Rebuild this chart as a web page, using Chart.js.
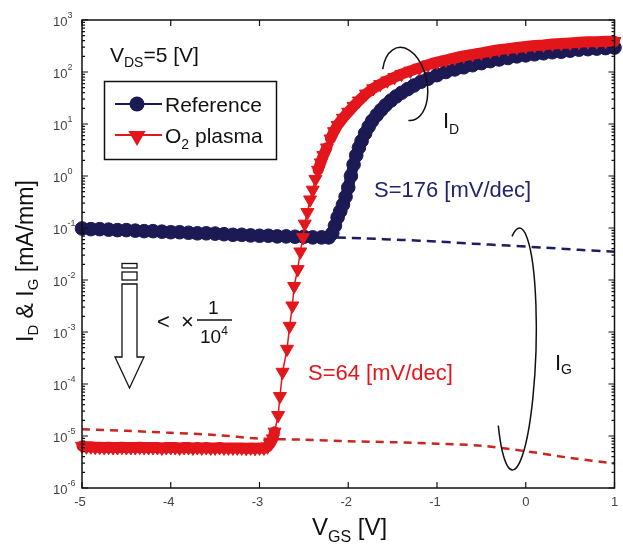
<!DOCTYPE html>
<html>
<head>
<meta charset="utf-8">
<script src="https://cdn.jsdelivr.net/npm/chart.js@4.4.1/dist/chart.umd.min.js"></script>
<style>
  html, body { margin: 0; padding: 0; background: #fff; }
  #wrap { width: 623px; height: 548px; }
</style>
</head>
<body>
<div id="wrap"><canvas id="ivChart"></canvas></div>
<script>
// Reference device: drain current I_D [mA/mm] vs V_GS [V]
const vgsRef = [-5.0, -4.9, -4.8, -4.7, -4.6, -4.5, -4.4, -4.3, -4.2, -4.1,
  -4.0, -3.9, -3.8, -3.7, -3.6, -3.5, -3.4, -3.3, -3.2, -3.1,
  -3.0, -2.9, -2.8, -2.7, -2.6, -2.5, -2.4, -2.3, -2.22, -2.18,
  -2.15, -2.12, -2.09, -2.06, -2.03, -2.00, -1.97, -1.94, -1.91, -1.88,
  -1.85, -1.81, -1.77, -1.73, -1.68, -1.63, -1.58, -1.52, -1.46, -1.40,
  -1.33, -1.26, -1.18, -1.10, -1.00, -0.90, -0.80, -0.70, -0.60, -0.50,
  -0.40, -0.30, -0.20, -0.10, 0.00, 0.10, 0.20, 0.30, 0.40, 0.50,
  0.60, 0.70, 0.80, 0.90, 1.00];
const idRef = [0.098, 0.095, 0.095, 0.093, 0.091, 0.091, 0.089, 0.087, 0.087, 0.085,
  0.083, 0.083, 0.081, 0.079, 0.079, 0.078, 0.076, 0.074, 0.074, 0.072,
  0.071, 0.071, 0.069, 0.069, 0.068, 0.068, 0.066, 0.066, 0.066, 0.079,
  0.11, 0.16, 0.21, 0.28, 0.40, 0.60, 1.0, 1.66, 2.5, 3.5,
  4.7, 6.6, 8.9, 11.5, 14.8, 18.6, 22.9, 28.2, 33.9, 39.8,
  46.8, 55, 65, 74, 87, 100, 112, 123, 135, 148,
  162, 174, 186, 200, 209, 219, 229, 240, 245, 257,
  269, 275, 282, 288, 295];

// O2 plasma device: drain current I_D [mA/mm] vs V_GS [V]
const vgsO2 = [-5.00, -4.95, -4.90, -4.85, -4.80, -4.75, -4.70, -4.65, -4.60, -4.55,
  -4.50, -4.45, -4.40, -4.35, -4.30, -4.25, -4.20, -4.15, -4.10, -4.05,
  -4.00, -3.95, -3.90, -3.85, -3.80, -3.75, -3.70, -3.65, -3.60, -3.55,
  -3.50, -3.45, -3.40, -3.35, -3.30, -3.25, -3.20, -3.15, -3.10, -3.05,
  -3.00, -2.95, -2.91, -2.88, -2.85, -2.83, -2.79, -2.77, -2.74, -2.69,
  -2.66, -2.63, -2.61, -2.57, -2.54, -2.51, -2.49, -2.46, -2.43, -2.40,
  -2.37, -2.34, -2.31, -2.28, -2.24, -2.20, -2.16, -2.12, -2.06, -2.00,
  -1.94, -1.88, -1.80, -1.72, -1.64, -1.56, -1.48, -1.40, -1.30, -1.20,
  -1.10, -1.00, -0.90, -0.80, -0.70, -0.60, -0.50, -0.40, -0.30, -0.20,
  -0.10, 0.00, 0.10, 0.20, 0.30, 0.40, 0.50, 0.60, 0.70, 0.80,
  0.90, 1.00];
const idO2 = [6.4e-6, 6.2e-6, 6.2e-6, 6.1e-6, 6.1e-6, 6.0e-6, 6.1e-6, 6.0e-6, 6.0e-6, 6.1e-6,
  6.0e-6, 6.0e-6, 6.0e-6, 6.1e-6, 6.0e-6, 6.0e-6, 6.0e-6, 6.0e-6, 5.9e-6, 6.0e-6,
  6.0e-6, 6.0e-6, 5.9e-6, 6.0e-6, 6.0e-6, 5.9e-6, 6.0e-6, 5.9e-6, 6.0e-6, 5.9e-6,
  5.9e-6, 6.0e-6, 5.9e-6, 5.9e-6, 5.9e-6, 5.9e-6, 5.9e-6, 5.8e-6, 5.9e-6, 5.8e-6,
  5.9e-6, 5.9e-6, 6.2e-6, 7.1e-6, 8.9e-6, 1.2e-5, 2.5e-5, 5.8e-5, 1.7e-4, 4.7e-4,
  1.3e-3, 3.2e-3, 7.6e-3, 0.016, 0.035, 0.066, 0.12, 0.20, 0.35, 0.54,
  0.87, 1.3, 1.8, 2.5, 3.5, 5.2, 7.2, 9.5, 13, 17,
  22, 28, 38, 48, 58, 68, 79, 91, 105, 120,
  138, 155, 170, 186, 204, 219, 234, 251, 269, 282,
  295, 309, 324, 331, 347, 355, 363, 372, 380, 380,
  389, 389];

// gate leakage I_G [mA/mm]
const vgsIgRef = [-5.0, -4.5, -4.0, -3.5, -3.0, -2.5, -2.2, -1.8, -1.4, -1.0, -0.6, -0.2, 0.2, 0.6, 1.0];
const igRef = [0.098, 0.091, 0.083, 0.078, 0.071, 0.068, 0.066, 0.063, 0.059, 0.055, 0.050, 0.046, 0.042, 0.038, 0.035];
const vgsIgO2 = [-5.0, -4.5, -4.0, -3.5, -3.0, -2.5, -2.0, -1.5, -1.0, -0.5, 0.0, 0.5, 1.0];
const igO2 = [1.35e-5, 1.26e-5, 1.15e-5, 1.05e-5, 8.9e-6, 8.5e-6, 7.9e-6, 7.6e-6, 7.1e-6, 6.5e-6, 5.1e-6, 3.8e-6, 2.95e-6];

const xTicks = [-5, -4, -3, -2, -1, 0, 1];
const yExponents = [3, 2, 1, 0, -1, -2, -3, -4, -5, -6];

const NAVY = '#1b1a55';
const RED = '#e3161b';
const FONT = '"Liberation Sans", Arial, sans-serif';

const pts = (xs, ys) => xs.map((v, i) => ({ x: v, y: ys[i] }));
const font = px => px + 'px ' + FONT;

// dense sweeps merge into a thick band; steep sparse stretches keep a thin trace
const bandWidth = c => Math.abs(c.p1.y - c.p0.y) > 8 ? 1.5 : 11;

// draw a run of text pieces (for sub/superscripts); returns end x
function textRuns(ctx, x, y, parts) {
  for (const [t, size, dy] of parts) {
    ctx.font = font(size);
    ctx.fillText(t, x, y + (dy || 0));
    x += ctx.measureText(t).width;
  }
  return x;
}

function downTriangle(ctx, cx, cy, r) {
  ctx.beginPath();
  ctx.moveTo(cx - r * 0.866, cy - r * 0.5);
  ctx.lineTo(cx + r * 0.866, cy - r * 0.5);
  ctx.lineTo(cx, cy + r);
  ctx.closePath();
  ctx.fill();
}

const decor = {
  id: 'decor',
  afterDraw(chart) {
    const { ctx, chartArea: a, scales: { x, y } } = chart;
    ctx.save();

    // axes box
    ctx.strokeStyle = '#111';
    ctx.lineWidth = 1.5;
    ctx.strokeRect(a.left, a.top, a.right - a.left, a.bottom - a.top);

    // inward ticks
    ctx.lineWidth = 1.2;
    ctx.beginPath();
    xTicks.forEach(v => {
      const px = x.getPixelForValue(v);
      ctx.moveTo(px, a.bottom); ctx.lineTo(px, a.bottom - 6);
      ctx.moveTo(px, a.top); ctx.lineTo(px, a.top + 6);
    });
    yExponents.forEach(e => {
      for (let m = 1; m < 10; m++) {
        const v = m * Math.pow(10, e);
        if (v > 1.0001e3) break;
        const py = y.getPixelForValue(v);
        const len = m === 1 ? 6 : 3;
        ctx.moveTo(a.left, py); ctx.lineTo(a.left + len, py);
        ctx.moveTo(a.right, py); ctx.lineTo(a.right - len, py);
      }
    });
    ctx.stroke();

    // tick labels
    ctx.fillStyle = '#444';
    ctx.textBaseline = 'alphabetic';
    ctx.font = font(13);
    ctx.textAlign = 'center';
    xTicks.forEach(v => {
      ctx.fillText(String(v), x.getPixelForValue(v) - (v < 0 ? 2 : 0), a.bottom + 18);
    });
    ctx.textAlign = 'left';
    yExponents.forEach(e => {
      const py = y.getPixelForValue(Math.pow(10, e));
      textRuns(ctx, a.left - 29, py + 6, [['10', 13], [String(e), 9, -8]]);
    });

    // axis titles
    ctx.fillStyle = '#111';
    textRuns(ctx, 312, 535, [['V', 24], ['GS', 16, 7], [' [V]', 24]]);
    ctx.save();
    ctx.translate(33, 342);
    ctx.rotate(-Math.PI / 2);
    textRuns(ctx, 0, 0, [['I', 23], ['D', 15, 5], [' & ', 23], ['I', 23], ['G', 15, 5], [' [mA/mm]', 23]]);
    ctx.restore();

    // bias condition
    textRuns(ctx, 110, 62, [['V', 21], ['DS', 14, 5], ['=5 [V]', 21]]);

    // legend
    ctx.lineWidth = 1.5;
    ctx.strokeStyle = '#111';
    ctx.strokeRect(104.5, 81.5, 172, 78);
    ctx.lineWidth = 2;
    ctx.strokeStyle = NAVY;
    ctx.beginPath(); ctx.moveTo(115, 104); ctx.lineTo(162, 104); ctx.stroke();
    ctx.fillStyle = NAVY;
    ctx.beginPath(); ctx.arc(137, 104, 7.5, 0, Math.PI * 2); ctx.fill();
    ctx.strokeStyle = RED;
    ctx.beginPath(); ctx.moveTo(115, 135); ctx.lineTo(162, 135); ctx.stroke();
    ctx.fillStyle = RED;
    downTriangle(ctx, 137, 136, 10);
    ctx.fillStyle = '#111';
    textRuns(ctx, 165, 112, [['Reference', 21]]);
    textRuns(ctx, 165, 143, [['O', 21], ['2', 14, 6], [' plasma', 21]]);

    // subthreshold swing notes
    ctx.fillStyle = '#23236e';
    textRuns(ctx, 374, 197, [['S=176 [mV/dec]', 22]]);
    ctx.fillStyle = RED;
    textRuns(ctx, 308, 380, [['S=64 [mV/dec]', 22]]);

    // I_D / I_G groups
    ctx.fillStyle = '#111';
    textRuns(ctx, 443, 128, [['I', 22], ['D', 14, 6]]);
    textRuns(ctx, 555, 370, [['I', 22], ['G', 14, 4]]);
    ctx.strokeStyle = '#111';
    ctx.lineWidth = 1.5;
    ctx.beginPath();
    ctx.ellipse(405, 84, 22, 37, -0.2, -2.6, 1.75);
    ctx.stroke();
    ctx.beginPath();
    ctx.ellipse(516, 349, 20, 121, 0.03, -1.95, 2.45);
    ctx.stroke();

    // leakage reduction arrow
    ctx.lineWidth = 1.3;
    ctx.strokeRect(122, 263.5, 15, 4.5);
    ctx.strokeRect(122, 272, 15, 8);
    ctx.beginPath();
    ctx.moveTo(122, 284); ctx.lineTo(137, 284); ctx.lineTo(137, 357);
    ctx.lineTo(144, 357); ctx.lineTo(129.5, 388); ctx.lineTo(115, 357);
    ctx.lineTo(122, 357); ctx.closePath();
    ctx.stroke();
    textRuns(ctx, 157, 329, [['<', 22]]);
    textRuns(ctx, 181, 329, [['\u00d7', 22]]);
    ctx.beginPath(); ctx.moveTo(197, 320); ctx.lineTo(232, 320); ctx.stroke();
    textRuns(ctx, 208, 314, [['1', 19]]);
    textRuns(ctx, 200, 343, [['10', 19], ['4', 12, -8]]);

    ctx.restore();
  }
};

new Chart(document.getElementById('ivChart'), {
  type: 'line',
  data: {
    datasets: [
      {
        label: 'O2 plasma',
        data: pts(vgsO2, idO2),
        borderColor: RED,
        backgroundColor: RED,
        borderWidth: 1.5,
        segment: { borderWidth: bandWidth },
        borderJoinStyle: 'round',
        borderCapStyle: 'round',
        pointStyle: 'triangle',
        rotation: 180,
        pointRadius: 7.5,
        pointBorderWidth: 1,
        tension: 0,
        clip: false
      },
      {
        label: 'Reference',
        data: pts(vgsRef, idRef),
        borderColor: NAVY,
        backgroundColor: NAVY,
        borderWidth: 11,
        borderJoinStyle: 'round',
        borderCapStyle: 'round',
        pointStyle: 'circle',
        pointRadius: 6.8,
        pointBorderWidth: 1,
        tension: 0,
        clip: false
      },
      {
        label: 'I_G O2 plasma',
        data: pts(vgsIgO2, igO2),
        borderColor: '#c8261e',
        borderWidth: 2.5,
        borderDash: [8, 6],
        pointRadius: 0,
        tension: 0.3
      },
      {
        label: 'I_G Reference',
        data: pts(vgsIgRef, igRef),
        borderColor: '#1d1d60',
        borderWidth: 2.5,
        borderDash: [9, 6],
        pointRadius: 0,
        tension: 0.3
      }
    ]
  },
  options: {
    responsive: true,
    maintainAspectRatio: false,
    animation: false,
    layout: { padding: { left: 82, top: 20, right: 3, bottom: 60 } },
    scales: {
      x: { type: 'linear', min: -5, max: 1, display: false },
      y: { type: 'logarithmic', min: 1e-6, max: 1e3, display: false }
    },
    plugins: {
      legend: { display: false },
      tooltip: { enabled: false }
    }
  },
  plugins: [decor]
});
</script>
</body>
</html>
